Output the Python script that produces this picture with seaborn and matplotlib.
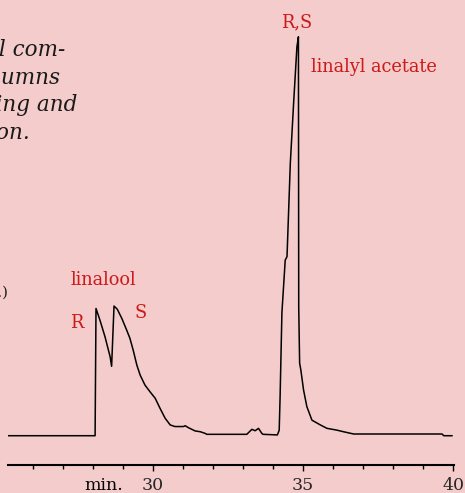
import matplotlib
matplotlib.use('Agg')
import matplotlib.pyplot as plt
import matplotlib.transforms as mtransforms
import seaborn as sns
import pandas as pd

# retention time (min) and detector signal (% of largest peak)
time_min = [25.18, 28.08, 28.11, 28.24, 28.41, 28.58, 28.63, 28.71, 28.82, 28.97,
            29.13, 29.24, 29.35, 29.47, 29.58, 29.74, 29.91, 30.08, 30.24, 30.41,
            30.58, 30.74, 31.02, 31.08, 31.19, 31.41, 31.58, 31.74, 31.80, 33.13,
            33.30, 33.41, 33.52, 33.63, 33.67, 34.15, 34.21, 34.24, 34.30, 34.41,
            34.47, 34.58, 34.69, 34.80, 34.85, 34.86, 34.89, 34.93, 35.02, 35.13,
            35.30, 35.58, 35.80, 36.13, 36.35, 36.69, 39.63, 39.69, 39.97]
signal = [0.0, 0.0, 31.9, 29.0, 24.8, 19.8, 17.4, 32.5, 31.7, 29.4,
          26.5, 24.4, 21.4, 17.7, 15.2, 12.7, 11.0, 9.4, 6.9, 4.4,
          2.7, 2.3, 2.3, 2.5, 2.0, 1.2, 1.0, 0.6, 0.35, 0.35,
          1.6, 1.25, 1.85, 0.6, 0.35, 0.2, 1.4, 9.8, 30.8, 44.0,
          44.9, 68.3, 83.4, 97.5, 100.0, 32.3, 18.2, 16.5, 11.5, 7.3,
          3.9, 2.7, 1.85, 1.4, 1.0, 0.43, 0.43, 0.0, 0.0]

major_ticks = [30, 35, 40]
minor_ticks = list(range(26, 41))

# peak annotations: (text, time, signal, horizontal alignment)
peak_labels = [
    ('linalool', 28.37, 39.0, 'center'),
    ('R', 27.47, 28.3, 'center'),
    ('S', 29.61, 30.7, 'center'),
    ('R,S', 34.80, 103.7, 'center'),
    ('linalyl acetate', 35.27, 92.5, 'left'),
]

# cropped caption lines on the left edge
caption_lines = ['chiral com-', 'columns', 'coating and', 'separation.']

bg = '#f3cccb'
red = '#cc1a1a'

sns.set_style('white')
plt.rcParams['font.family'] = ['DejaVu Serif']

df = pd.DataFrame({'time': time_min, 'signal': signal})

fig = plt.figure(figsize=(4.65, 4.93), dpi=100)
fig.patch.set_facecolor(bg)
ax = fig.add_axes([8 / 465, 28 / 493, 446 / 465, 435 / 493])
ax.set_facecolor(bg)

sns.lineplot(data=df, x='time', y='signal', ax=ax, sort=False, estimator=None,
             color='black', linewidth=1.1)

ax.set_xlim(25.18, 40.03)
ax.set_ylim(-7.34, 101.7)

for side in ['top', 'left', 'right']:
    ax.spines[side].set_visible(False)
ax.spines['bottom'].set_linewidth(1.5)
ax.spines['bottom'].set_color('black')

ax.set_xticks(major_ticks)
ax.set_xticklabels([str(t) for t in major_ticks])
ax.set_xticks(minor_ticks, minor=True)
ax.set_yticks([])
ax.tick_params(axis='x', which='both', direction='out', bottom=True, color='black',
               width=1.0, labelsize=12.5, pad=4.5)
ax.tick_params(axis='x', which='major', length=4.5)
ax.tick_params(axis='x', which='minor', length=3)
ax.set_xlabel('')
ax.set_ylabel('')

# "min." sits just left of the 30 tick label
trans = mtransforms.blended_transform_factory(ax.transData, ax.transAxes)
ax.text(29.02, -(6 + 6) / 435, 'min.', transform=trans, ha='right', va='top',
        fontsize=12.5, color='black')

for txt, t, s, ha in peak_labels:
    ax.text(t, s, txt, ha=ha, va='center', fontsize=12.8, color=red)

# caption text, cut by the left edge of the picture
caption_right = [65, 60, 77, 30]
for i, (line, xr) in enumerate(zip(caption_lines, caption_right)):
    fig.text(xr / 465, 1 - (50 + i * 27.7) / 493, line, ha='right', va='center',
             fontsize=15.5, style='italic', color='#1a1a1a')
fig.text(9 / 465, 1 - 293 / 493, '(a.u.)', ha='right', va='center',
         fontsize=10.5, color='#1a1a1a')

fig.savefig('out.png', dpi=100, facecolor=bg)
